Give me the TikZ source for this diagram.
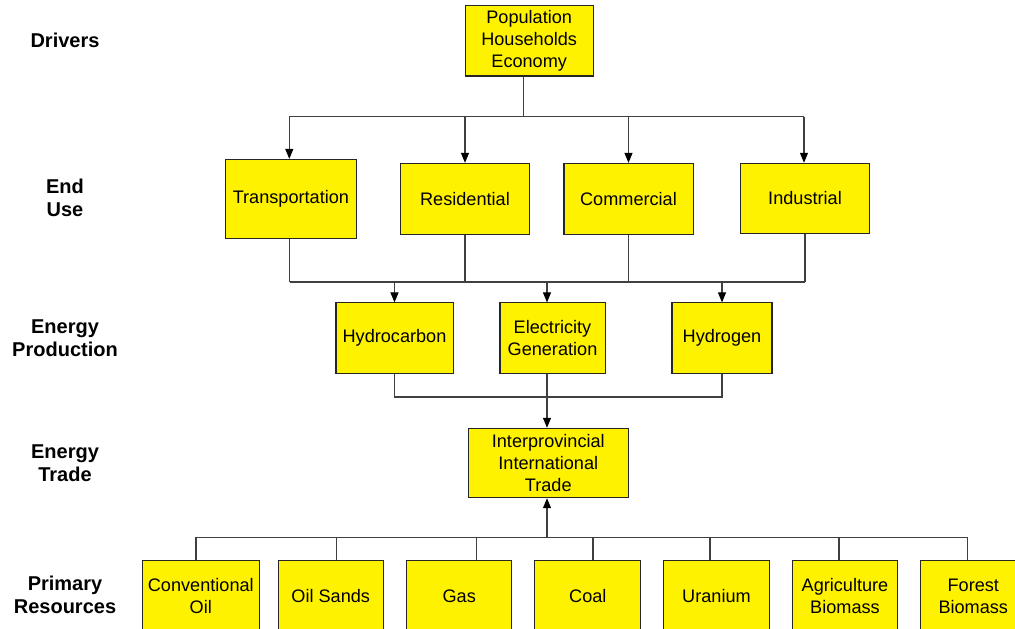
\documentclass[tikz,border=0pt]{standalone}
\usepackage{fontspec}
\setmainfont{Liberation Sans}
\usetikzlibrary{arrows.meta,calc}
\begin{document}
\begin{tikzpicture}[x=0.75pt,y=-0.75pt,
  box/.style={draw=black!85,line width=0.8pt,fill=yellow,inner sep=0pt,
    align=center,minimum height=52.6pt,
    font=\fontsize{13.6}{16.5}\selectfont},
  level/.style={align=center,font=\fontsize{15}{17}\selectfont\bfseries},
  wire/.style={draw=black!75,line width=0.8pt},
  arr/.style={wire,-{Triangle[length=7.5pt,width=6pt,color=black]}}]
\useasboundingbox (0,0) rectangle (1015,629);
\clip (0,0) rectangle (1015,629);

% level captions
\node[level] (lDrv) at (65,40) {Drivers};
\node[level] (lEnd) at (65,198) {End\\Use};
\node[level] (lPrd) at (65,338) {Energy\\Production};
\node[level] (lTrd) at (65,463) {Energy\\Trade};
\node[level] (lPri) at (65,595) {Primary\\Resources};

% drivers
\node[box,minimum width=96.2pt] (drv) at (529.2,40.9) {Population\\Households\\Economy};

% end use
\node[box,minimum width=98.8pt,minimum height=59pt] (trans) at (290.9,198.7) {Transportation};
\node[box,minimum width=96.4pt,minimum height=53pt] (res) at (465,198.7) {Residential};
\node[box,minimum width=96.8pt,minimum height=53pt] (com) at (628.5,198.7) {Commercial};
\node[box,minimum width=96.4pt,minimum height=52.5pt] (ind) at (805,198.3) {Industrial};

% energy production
\node[box,minimum width=87.8pt] (hyc) at (394.5,338) {Hydrocarbon};
\node[box,minimum width=78.8pt] (ele) at (552.5,338) {Electricity\\Generation};
\node[box,minimum width=75pt] (hyd) at (722,338) {Hydrogen};

% energy trade
\node[box,minimum width=120pt,minimum height=52pt] (trade) at (548.3,463) {Interprovincial\\International\\Trade};

% primary resources
\node[box,minimum width=87.8pt] (conv) at (200.8,596) {Conventional\\Oil};
\node[box,minimum width=79pt] (oils) at (330.7,596) {Oil Sands};
\node[box,minimum width=78.8pt] (gas) at (459.2,596) {Gas};
\node[box,minimum width=79.3pt] (coal) at (587.8,596) {Coal};
\node[box,minimum width=79.2pt] (ura) at (716.5,596) {Uranium};
\node[box,minimum width=79pt] (agr) at (845,596) {Agriculture\\Biomass};
\node[box,minimum width=79pt] (for) at (973.3,596) {Forest\\Biomass};

% bus levels
\coordinate (tA) at (0,116.7);
\coordinate (tB) at (0,282);
\coordinate (tC) at (0,397);
\coordinate (tD) at (0,537.3);

% tap points on the boxes
\coordinate (dOut) at ($(drv.south)+(-6,0)$);
\coordinate (trIn) at ($(trans.north)+(-1.6,0)$);
\coordinate (trOut) at ($(trans.south)+(-1,0)$);
\coordinate (inIn) at ($(ind.north)+(-1,0)$);
\coordinate (elIn) at ($(ele.north)+(-5.5,0)$);
\coordinate (elOut) at ($(ele.south)+(-5.5,0)$);
\coordinate (p1) at ($(conv.north)+(-4.8,0)$);
\coordinate (p2) at ($(oils.north)+(6,0)$);
\coordinate (p3) at ($(gas.north)+(17.5,0)$);
\coordinate (p4) at ($(coal.north)+(5.2,0)$);
\coordinate (p5) at ($(ura.north)+(-6.5,0)$);
\coordinate (p6) at ($(agr.north)+(-6,0)$);
\coordinate (p7) at ($(for.north)+(-5.6,0)$);

% drivers -> end use
\draw[wire] (dOut) -- (dOut |- tA);
\draw[wire] (trIn |- tA) -- (inIn |- tA);
\draw[arr] (trIn |- tA) -- (trIn);
\draw[arr] (res.north |- tA) -- (res.north);
\draw[arr] (com.north |- tA) -- (com.north);
\draw[arr] (inIn |- tA) -- (inIn);

% end use -> energy production
\draw[wire] (trOut) -- (trOut |- tB);
\draw[wire] (res.south) -- (res.south |- tB);
\draw[wire] (com.south) -- (com.south |- tB);
\draw[wire] (ind.south) -- (ind.south |- tB);
\draw[wire] (trOut |- tB) -- (ind.south |- tB);
\draw[arr] (hyc.north |- tB) -- (hyc.north);
\draw[arr] (elIn |- tB) -- (elIn);
\draw[arr] (hyd.north |- tB) -- (hyd.north);

% energy production -> trade
\draw[wire] (hyc.south) -- (hyc.south |- tC) -- (hyd.south |- tC) -- (hyd.south);
\draw[arr] (elOut) -- (elOut |- trade.north);

% primary resources -> trade
\foreach \p in {p1,p2,p3,p4,p5,p6,p7}
  \draw[wire] (\p) -- (\p |- tD);
\draw[wire] (p1 |- tD) -- (p7 |- tD);
\draw[arr] (elOut |- tD) -- (elOut |- trade.south);
\end{tikzpicture}
\end{document}
